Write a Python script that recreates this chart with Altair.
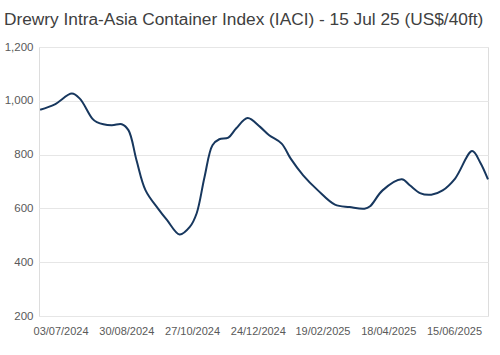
import altair as alt
import pandas as pd

dates = [
    "2024-06-15", "2024-06-28", "2024-07-13", "2024-07-20", "2024-07-31",
    "2024-08-04", "2024-08-17", "2024-08-26", "2024-09-01", "2024-09-08",
    "2024-09-16", "2024-09-27", "2024-10-05", "2024-10-16", "2024-10-25",
    "2024-10-31", "2024-11-07", "2024-11-14", "2024-11-20", "2024-11-28",
    "2024-12-05", "2024-12-15", "2024-12-26", "2025-01-03", "2025-01-14",
    "2025-01-22", "2025-02-02", "2025-02-15", "2025-03-02", "2025-03-15",
    "2025-03-28", "2025-04-02", "2025-04-13", "2025-04-30", "2025-05-07",
    "2025-05-16", "2025-05-26", "2025-06-05", "2025-06-16", "2025-07-01",
    "2025-07-08", "2025-07-15",
]
values = [
    967, 987, 1027, 1008, 934,
    921, 909, 913, 890, 779,
    667, 599, 556, 503, 531,
    581, 717, 835, 857, 863,
    898, 936, 903, 872, 841,
    785, 723, 667, 614, 605,
    599, 608, 667, 708, 686,
    657, 651, 667, 711, 813,
    772, 708,
]
tick_dates = [(2024, 7, 3), (2024, 8, 30), (2024, 10, 27), (2024, 12, 24),
              (2025, 2, 19), (2025, 4, 18), (2025, 6, 15)]
y_ticks = [200, 400, 600, 800, 1000, 1200]

df = pd.DataFrame({"date": dates, "value": values})

def dt(y, m, d):
    return alt.DateTime(year=y, month=m, date=d, utc=True)

chart = alt.Chart(df).mark_line(
    interpolate="catmull-rom", color="#17375e", strokeWidth=2
).encode(
    x=alt.X(
        "date:T",
        scale=alt.Scale(type="utc", domain=[dt(2024, 6, 14), dt(2025, 7, 15)], nice=False),
        axis=alt.Axis(
            values=[dt(*t) for t in tick_dates],
            labelExpr="utcFormat(datum.value, '%d/%m/%Y')",
            title=None, grid=False, domain=False, ticks=False,
            labelFontSize=11, labelColor="#595959", labelPadding=9,
            labelFont="Liberation Sans", labelOverlap=False,
        ),
    ),
    y=alt.Y(
        "value:Q",
        scale=alt.Scale(domain=[200, 1200], nice=False, zero=False),
        axis=alt.Axis(
            values=y_ticks, labelExpr="format(datum.value, ',')",
            title=None, domain=False, ticks=False,
            labelFontSize=11.5, labelColor="#595959", labelPadding=6,
            labelFont="Liberation Sans", gridColor="#e6e6e6", gridWidth=1,
        ),
    ),
).properties(
    width=449, height=269,
    autosize=alt.AutoSizeParams(type="none"),
    padding={"left": 39, "top": 47, "right": 12, "bottom": 39},
    title=alt.TitleParams(
        "Drewry Intra-Asia Container Index (IACI) - 15 Jul 25 (US$/40ft)",
        anchor="start", frame="group", dx=-35, offset=13,
        fontSize=17.3, fontWeight="normal", color="#404040",
        font="Liberation Sans",
    ),
).configure_view(stroke=None).configure(background="white")

chart.save("out.html", embed_options={"renderer": "svg", "actions": False})
